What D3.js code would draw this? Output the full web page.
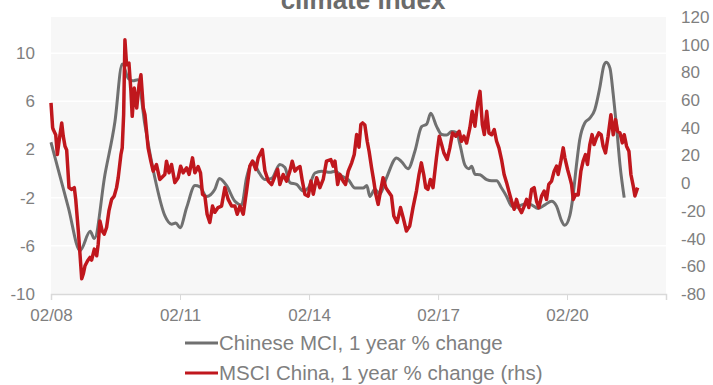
<!DOCTYPE html>
<html>
<head>
<meta charset="utf-8">
<script src="https://cdn.jsdelivr.net/npm/d3@7"></script>
<style>
  body { margin: 0; background: #fff; }
  svg { display: block; font-family: "Liberation Sans", Arial, sans-serif; }
</style>
</head>
<body>
<svg width="713" height="385"></svg>
<script>
// Chinese MCI, 1 year % change (left axis)
var mciDates = ["2008-02-01","2008-04-03","2008-06-27","2008-10-05","2008-12-30","2009-02-03","2009-05-04","2009-07-28","2009-09-28","2009-11-19","2009-12-28","2010-02-08","2010-04-08","2010-07-02","2010-09-25","2010-11-21","2010-12-27","2011-02-01","2011-03-30","2011-06-08","2011-07-20","2011-09-15","2011-11-24","2012-01-01","2012-03-03","2012-05-12","2012-07-08","2012-08-19","2012-10-14","2012-11-26","2013-01-22","2013-03-20","2013-05-29","2013-07-11","2013-08-22","2013-10-18","2013-12-13","2014-01-25","2014-03-23","2014-05-19","2014-07-29","2014-09-10","2014-11-05","2014-12-31","2015-02-26","2015-05-06","2015-06-07","2015-07-02","2015-08-14","2015-09-25","2015-11-21","2016-02-14","2016-03-27","2016-05-22","2016-07-19","2016-09-14","2016-10-27","2016-11-30","2017-01-20","2017-03-03","2017-04-15","2017-05-27","2017-07-09","2017-08-06","2017-09-17","2017-10-21","2017-11-13","2017-12-11","2018-01-23","2018-03-21","2018-05-02","2018-06-13","2018-07-25","2018-09-06","2018-10-18","2018-11-30","2019-01-12","2019-02-23","2019-04-06","2019-06-01","2019-07-28","2019-09-23","2019-11-04","2019-12-16","2020-01-13","2020-02-25","2020-03-24","2020-04-22","2020-05-19","2020-07-01","2020-08-13","2020-09-24","2020-11-05","2020-12-11","2020-12-31","2021-01-31","2021-02-28","2021-03-29","2021-04-26","2021-06-01"];
var mciValues = [2.6,0.3,-2.8,-6.4,-4.8,-5.4,-0.1,4.3,9.1,7.9,7.7,7.8,4.1,-0.35,-3.5,-4.2,-4.1,-4.5,-2.8,-1.0,-1.1,-1.9,-1.3,-0.4,-1.0,-2.3,-2.6,-0.35,1.0,0.2,-0.5,-0.4,0.75,0.5,-0.75,-0.9,-1.45,-1.2,0.05,0.2,0.1,0.2,-0.2,-0.5,-1.2,-1.2,-1.0,-1.9,-1.3,-1.7,-0.35,1.3,1.0,0.4,1.85,3.9,4.1,5.0,3.9,3.25,3.2,3.5,3.4,2.4,0.7,0.4,0.6,-0.05,-0.1,-0.5,-0.6,-0.6,-1.2,-1.9,-2.7,-2.8,-2.6,-2.5,-2.6,-2.9,-2.6,-2.3,-2.7,-3.9,-4.3,-3.5,-1.8,0.75,2.8,4.2,4.6,5.3,7.1,9.0,9.25,8.75,6.55,3.8,0.75,-2.0];

// MSCI China, 1 year % change (right axis)
var msciDates = ["2008-02-01","2008-02-15","2008-02-20","2008-03-12","2008-03-26","2008-04-09","2008-05-02","2008-05-15","2008-05-30","2008-06-13","2008-07-03","2008-07-26","2008-08-17","2008-08-29","2008-09-20","2008-10-04","2008-10-19","2008-11-01","2008-11-16","2008-12-08","2008-12-28","2009-01-11","2009-02-03","2009-02-23","2009-03-08","2009-03-23","2009-04-11","2009-04-28","2009-05-18","2009-06-07","2009-06-30","2009-07-22","2009-08-11","2009-08-25","2009-09-17","2009-09-28","2009-10-10","2009-10-21","2009-11-04","2009-11-24","2009-12-11","2009-12-22","2010-01-08","2010-01-29","2010-02-18","2010-03-06","2010-03-26","2010-04-09","2010-05-06","2010-05-29","2010-06-18","2010-07-16","2010-08-13","2010-09-25","2010-10-09","2010-10-31","2010-11-21","2010-12-19","2011-01-16","2011-02-06","2011-02-28","2011-03-29","2011-04-19","2011-05-18","2011-06-07","2011-07-05","2011-07-25","2011-08-11","2011-08-31","2011-09-19","2011-10-12","2011-11-04","2011-11-24","2011-12-21","2012-01-20","2012-02-17","2012-03-16","2012-04-14","2012-05-12","2012-06-01","2012-06-24","2012-07-22","2012-08-19","2012-09-16","2012-10-09","2012-11-06","2012-11-26","2012-12-31","2013-01-22","2013-02-20","2013-03-20","2013-04-17","2013-05-10","2013-05-29","2013-06-26","2013-07-25","2013-08-22","2013-09-11","2013-10-04","2013-10-27","2013-11-16","2013-12-05","2013-12-28","2014-01-25","2014-02-17","2014-03-09","2014-04-06","2014-05-04","2014-06-01","2014-06-29","2014-08-05","2014-08-25","2014-09-09","2014-10-02","2014-10-21","2014-11-18","2014-12-08","2014-12-31","2015-01-29","2015-02-20","2015-03-12","2015-04-01","2015-04-17","2015-05-02","2015-05-21","2015-06-10","2015-06-26","2015-07-17","2015-08-05","2015-08-22","2015-09-11","2015-10-01","2015-10-23","2015-11-15","2015-12-04","2016-01-02","2016-01-22","2016-02-19","2016-03-19","2016-04-10","2016-05-08","2016-06-05","2016-07-03","2016-08-01","2016-08-23","2016-09-12","2016-10-02","2016-10-19","2016-11-07","2016-11-28","2016-12-20","2017-01-18","2017-02-11","2017-03-03","2017-03-22","2017-04-19","2017-05-12","2017-06-04","2017-07-02","2017-07-30","2017-08-19","2017-09-08","2017-10-01","2017-10-29","2017-11-18","2017-12-11","2018-01-03","2018-01-23","2018-02-12","2018-03-01","2018-03-21","2018-04-09","2018-05-02","2018-05-24","2018-06-13","2018-07-03","2018-07-25","2018-08-16","2018-09-06","2018-09-25","2018-10-18","2018-11-09","2018-11-29","2018-12-19","2019-01-11","2019-02-03","2019-02-23","2019-03-14","2019-04-06","2019-04-28","2019-05-18","2019-06-07","2019-06-30","2019-07-22","2019-08-11","2019-08-30","2019-09-23","2019-10-15","2019-11-04","2019-11-18","2019-12-11","2019-12-31","2020-01-14","2020-02-06","2020-02-25","2020-03-11","2020-03-25","2020-04-14","2020-05-06","2020-05-29","2020-06-17","2020-07-07","2020-07-24","2020-08-13","2020-09-01","2020-09-18","2020-10-08","2020-10-28","2020-11-17","2020-12-04","2020-12-24","2021-01-15","2021-02-08","2021-02-28","2021-03-20","2021-04-06","2021-04-26","2021-05-16","2021-06-01","2021-06-21","2021-07-11","2021-07-28","2021-08-17","2021-08-31","2021-09-23"];
var msciValues = [58,40,38.7,35,20.7,30,43.5,34,26.7,24,-3.2,-4.5,-3.2,-11.7,-34.4,-51,-69,-65.6,-59.6,-56,-53.6,-55.5,-47.6,-52.4,-44,-27.3,-34.5,-36.8,-32,-20,-11.7,-9.3,-3.2,4,20.7,25.5,49.5,103.5,85.5,86.7,66.3,48.3,68.7,54.3,71,78.3,54.3,49.5,25.5,15.9,8.7,13.5,2.7,6.3,15.9,7.5,13.5,0.4,4,12.3,7.5,11.1,6.3,18.3,7.5,12,7.5,-8.1,-9.3,-22.4,-28.4,-16.5,-21,-17.6,-16.5,-3.2,-11.7,-16.5,-16.5,-22.4,-16.5,-22.4,-5.7,12.3,16,9.9,18.3,24.3,9,1.5,-1,5,10,-0.9,6.3,1.5,8.7,15.9,8.7,11,12,2,-8.1,-9.3,1.5,-8,4,-3.2,2.7,15.9,17.1,12.3,16,-0.9,6.3,1.5,-0.9,8.7,14.7,20.7,35.1,26,42.3,43.5,42,30.3,23.1,11.2,1.5,-8.1,-15.3,-5.7,4,-3.2,-5.7,-9.3,-23.7,-28.4,-17.6,-24.8,-34.5,-30.9,-17.6,-5.7,6.3,14.7,6.3,-3.2,-4.5,2.7,-3.2,18.3,33.9,27.9,21.9,17.1,25.5,36.3,33.9,37.5,30.3,34,29,39.9,51.9,41.1,57.9,66.3,42.3,35.1,51.9,36.3,35,38.7,30.3,25.5,17.1,6.3,0.4,-5.7,-12.9,-18.8,-11.7,-17.6,-21.2,-16.5,-11.7,-17.6,-4.5,-3.2,-12.9,-17.6,-9.3,-5.7,-11.7,-0.9,1.5,8.7,12.3,6.3,15.9,25.5,18.3,9.9,4,-0.9,-11.7,-8.1,-8.5,8.7,15.9,20.7,13.5,27.9,35.1,27.9,32.7,36.3,35.1,26.7,21.9,33.9,49.5,35,45.9,37.5,36.3,29.1,35,26.7,23.1,6.3,-2.1,-9.3,-3.2];

var leftTicks = [-10, -6, -2, 2, 6, 10];
var rightTicks = [-80, -60, -40, -20, 0, 20, 40, 60, 80, 100, 120];
var xTickDates = ["2008-02-01", "2011-02-01", "2014-02-01", "2017-02-01", "2020-02-01"];
var seriesNames = ["Chinese MCI, 1 year % change", "MSCI China, 1 year % change (rhs)"];
var seriesColors = ["#707070", "#c0171d"];

function drawChart() {
  var parse = d3.timeParse("%Y-%m-%d");
  var svg = d3.select("svg");
  var plotLeft = 51, plotRight = 666, plotTop = 17, plotBottom = 294;
  var textColor = "#7f7f7f";
  // plain hyphen for negatives, like the source chart
  var plain = function (d) { return String(d); };

  var x = d3.scaleTime()
    .domain([parse("2008-02-01"), parse("2022-05-22")])
    .range([plotLeft, plotRight]);
  var yL = d3.scaleLinear().domain([-10, 13]).range([plotBottom, plotTop]);
  var yR = d3.scaleLinear().domain([-80, 120]).range([plotBottom, plotTop]);

  // plot background
  svg.append("rect")
    .attr("x", plotLeft).attr("y", plotTop)
    .attr("width", plotRight - plotLeft).attr("height", plotBottom - plotTop)
    .attr("fill", "#f7f7f7");

  // white gridlines on left ticks
  svg.append("g").selectAll("line")
    .data(leftTicks.filter(function (d) { return d > -10; }))
    .enter().append("line")
    .attr("x1", plotLeft).attr("x2", plotRight)
    .attr("y1", function (d) { return yL(d); })
    .attr("y2", function (d) { return yL(d); })
    .attr("stroke", "#ffffff").attr("stroke-width", 1.5);

  // title (its first line sits above the visible area)
  svg.append("text")
    .attr("x", 363).attr("y", 9)
    .attr("text-anchor", "middle")
    .attr("font-size", 26).attr("font-weight", "bold")
    .attr("fill", "#6b6b6b")
    .text("climate index");

  var gL = svg.append("g")
    .attr("transform", "translate(" + plotLeft + ",0)")
    .call(d3.axisLeft(yL).tickValues(leftTicks).tickFormat(plain).tickSize(0).tickPadding(16));
  var gR = svg.append("g")
    .attr("transform", "translate(" + plotRight + ",0)")
    .call(d3.axisRight(yR).tickValues(rightTicks).tickFormat(plain).tickSize(0).tickPadding(15));
  var gX = svg.append("g")
    .attr("transform", "translate(0," + plotBottom + ")")
    .call(d3.axisBottom(x)
      .tickValues(xTickDates.map(parse))
      .tickFormat(d3.timeFormat("%m/%y"))
      .tickSize(6).tickPadding(9));

  [gL, gR].forEach(function (g) { g.select(".domain").remove(); });
  gX.select(".domain").attr("stroke", "#d9d9d9").attr("stroke-width", 1.5);
  gX.selectAll(".tick line").attr("stroke", "#d9d9d9");
  svg.selectAll(".tick text")
    .attr("fill", textColor)
    .attr("font-size", 17)
    .attr("font-family", "'Liberation Sans', Arial, sans-serif");

  var mciData = mciDates.map(function (d, i) { return { date: parse(d), value: mciValues[i] }; });
  var msciData = msciDates.map(function (d, i) { return { date: parse(d), value: msciValues[i] }; });

  svg.append("path")
    .datum(mciData)
    .attr("fill", "none")
    .attr("stroke", seriesColors[0])
    .attr("stroke-width", 3)
    .attr("stroke-linejoin", "round")
    .attr("d", d3.line().curve(d3.curveMonotoneX)
      .x(function (d) { return x(d.date); })
      .y(function (d) { return yL(d.value); }));

  svg.append("path")
    .datum(msciData)
    .attr("fill", "none")
    .attr("stroke", seriesColors[1])
    .attr("stroke-width", 3.5)
    .attr("stroke-linejoin", "round")
    .attr("d", d3.line()
      .x(function (d) { return x(d.date); })
      .y(function (d) { return yR(d.value); }));

  // legend
  var legend = svg.append("g").selectAll("g")
    .data(seriesNames)
    .enter().append("g")
    .attr("transform", function (d, i) { return "translate(185," + (343 + i * 30) + ")"; });
  legend.append("line")
    .attr("x1", 0).attr("x2", 33)
    .attr("stroke", function (d, i) { return seriesColors[i]; })
    .attr("stroke-width", 3);
  legend.append("text")
    .attr("x", 34).attr("dy", "0.35em")
    .attr("font-size", 20.5)
    .attr("fill", textColor)
    .text(function (d) { return d; });
}

drawChart();
</script>
</body>
</html>
